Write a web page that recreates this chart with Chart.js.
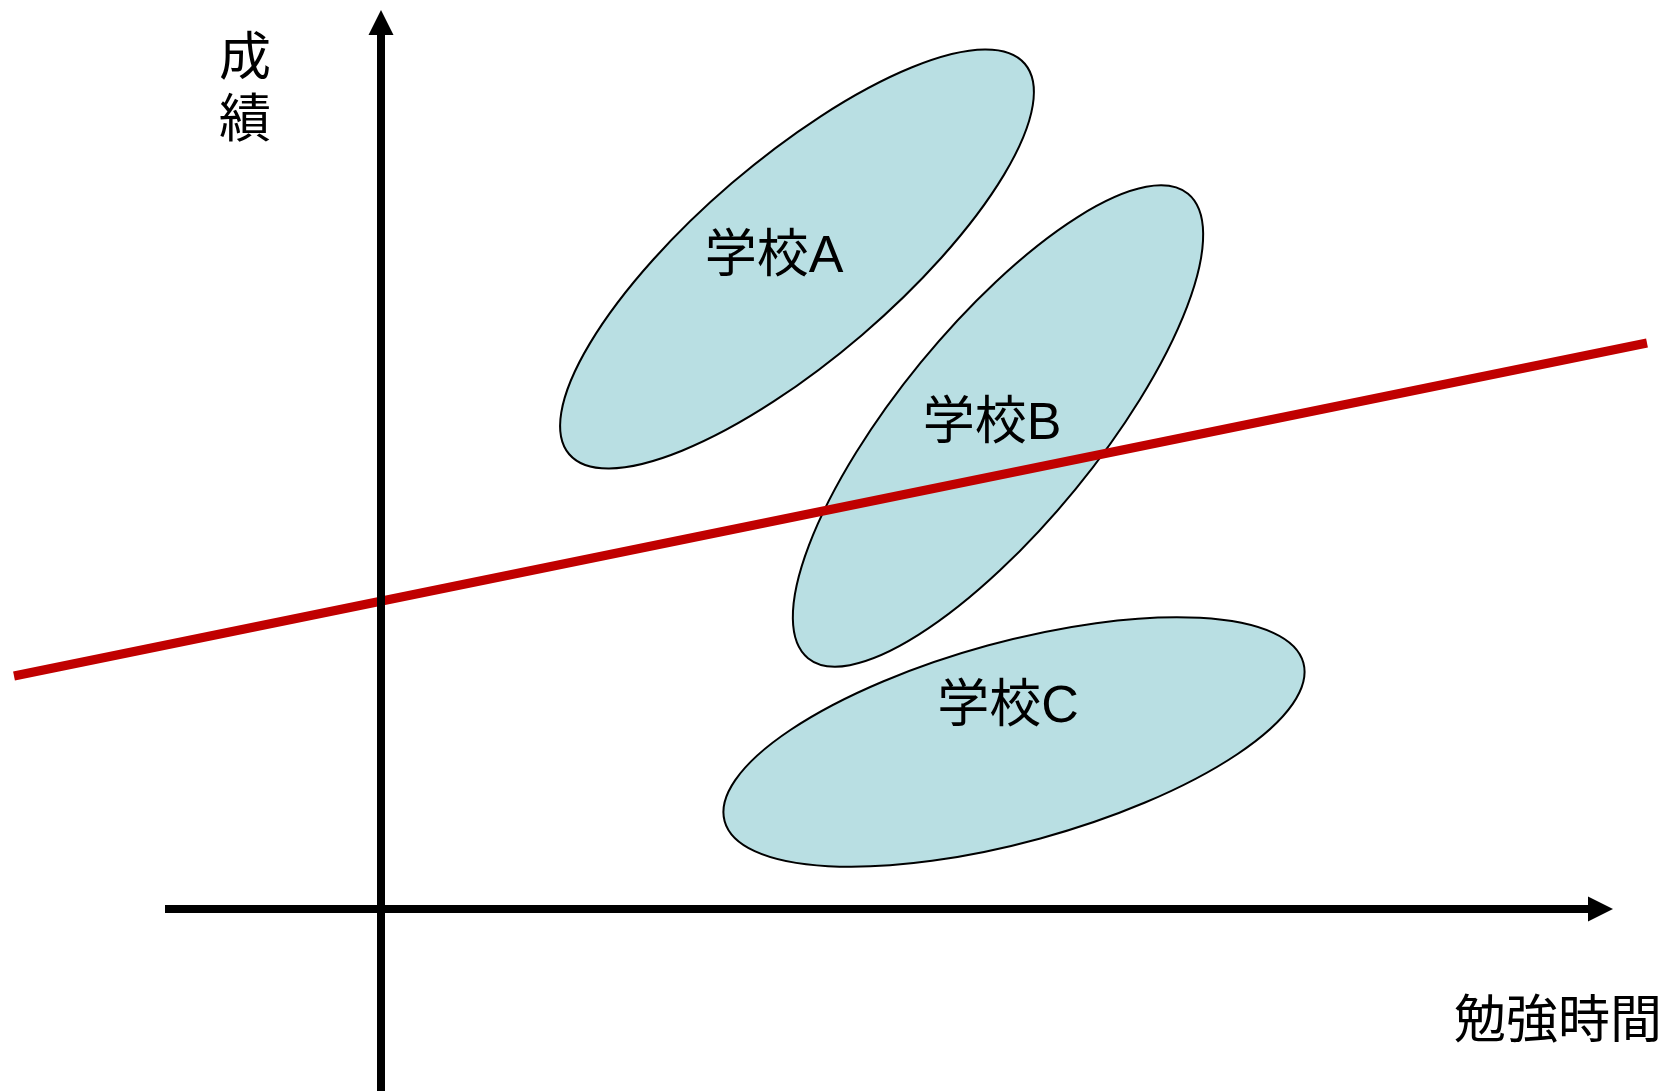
<!DOCTYPE html>
<html lang="ja">
<head>
<meta charset="utf-8">
<title>勉強時間と成績</title>
<script src="https://cdn.jsdelivr.net/npm/chart.js@4"></script>
<style>
    html, body { margin: 0; padding: 0; background: #fff; }
    canvas { display: block; }
</style>
</head>
<body>
<canvas id="grafico" width="1667" height="1091"></canvas>
<script>
// 学校ごとの分布 (楕円: 中心, 半径, 傾き)
const schools = ['学校A', '学校B', '学校C'];
const centerX = [416, 617, 633];
const centerY = [650, 483, 167];
const radiusMajor = [300, 300, 300];
const radiusMinor = [100, 100, 100];
const tiltDeg = [40.6, 50.7, 15.3];
const labelX = [393, 611, 627];
const labelY = [656, 489, 206];

// 全体でみた回帰直線
const trendX = [-367, 1266];
const trendY = [233, 566];

// 軸
const axisX = [-216, 1232];
const axisY = [-182, 899];
const xTitle = '勉強時間';
const yTitle = ['成', '績'];

const LABEL_FONT = '52px "Liberation Sans", "Noto Sans CJK JP", sans-serif';
const TITLE_FONT = '52px "Noto Sans CJK JP", sans-serif';

const diagram = {
    id: 'diagram',
    beforeDatasetsDraw(chart) {
        const { ctx, scales: { x, y } } = chart;
        ctx.save();
        schools.forEach((s, i) => {
            const cx = x.getPixelForValue(centerX[i]);
            const cy = y.getPixelForValue(centerY[i]);
            const rx = Math.abs(x.getPixelForValue(radiusMajor[i]) - x.getPixelForValue(0));
            const ry = Math.abs(y.getPixelForValue(radiusMinor[i]) - y.getPixelForValue(0));
            ctx.beginPath();
            ctx.ellipse(cx, cy, rx, ry, -tiltDeg[i] * Math.PI / 180, 0, Math.PI * 2);
            ctx.fillStyle = '#b9dfe3';
            ctx.fill();
            ctx.lineWidth = 2;
            ctx.strokeStyle = '#000';
            ctx.stroke();
        });
        ctx.restore();
    },
    afterDatasetsDraw(chart) {
        const { ctx, scales: { x, y } } = chart;
        const ox = x.getPixelForValue(0);
        const oy = y.getPixelForValue(0);
        const head = 25;
        ctx.save();
        ctx.strokeStyle = '#000';
        ctx.fillStyle = '#000';
        ctx.lineWidth = 8;
        ctx.lineCap = 'butt';

        // 横軸
        const xs = x.getPixelForValue(axisX[0]);
        const xe = x.getPixelForValue(axisX[1]);
        ctx.beginPath();
        ctx.moveTo(xs, oy);
        ctx.lineTo(xe - head + 2, oy);
        ctx.stroke();
        ctx.beginPath();
        ctx.moveTo(xe, oy);
        ctx.lineTo(xe - head, oy - 12.5);
        ctx.lineTo(xe - head, oy + 12.5);
        ctx.closePath();
        ctx.fill();

        // 縦軸
        const ys = y.getPixelForValue(axisY[0]);
        const ye = y.getPixelForValue(axisY[1]);
        ctx.beginPath();
        ctx.moveTo(ox, ys);
        ctx.lineTo(ox, ye + head - 2);
        ctx.stroke();
        ctx.beginPath();
        ctx.moveTo(ox, ye);
        ctx.lineTo(ox - 12.5, ye + head);
        ctx.lineTo(ox + 12.5, ye + head);
        ctx.closePath();
        ctx.fill();

        // ラベル
        ctx.textBaseline = 'middle';
        ctx.textAlign = 'center';
        ctx.font = LABEL_FONT;
        schools.forEach((s, i) => {
            ctx.fillText(s, x.getPixelForValue(labelX[i]), y.getPixelForValue(labelY[i]) + 5);
        });

        ctx.font = TITLE_FONT;
        ctx.fillText(yTitle[0], 245, 55);
        ctx.fillText(yTitle[1], 245, 117);

        ctx.textAlign = 'right';
        ctx.fillText(xTitle, 1662, 1018);
        ctx.restore();
    }
};

const ctx = document.getElementById('grafico');
new Chart(ctx, {
    type: 'scatter',
    data: {
        datasets: [{
            type: 'line',
            label: '全体',
            data: trendX.map((v, i) => ({ x: v, y: trendY[i] })),
            borderColor: '#c00000',
            borderWidth: 9,
            pointRadius: 0,
            fill: false,
            borderCapStyle: 'butt'
        }]
    },
    options: {
        responsive: false,
        animation: false,
        devicePixelRatio: 1,
        layout: { padding: 0 },
        plugins: {
            legend: { display: false },
            tooltip: { enabled: false }
        },
        scales: {
            x: { type: 'linear', display: false, min: -381, max: 1286 },
            y: { type: 'linear', display: false, min: -182, max: 909 }
        }
    },
    plugins: [diagram]
});
</script>
</body>
</html>
